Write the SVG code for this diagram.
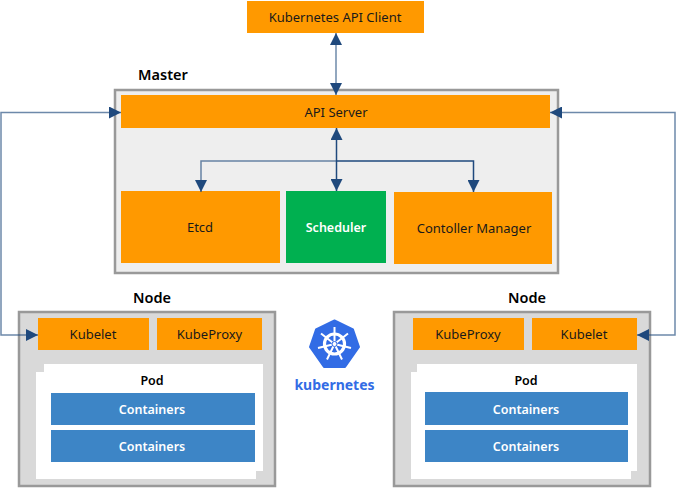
<svg xmlns="http://www.w3.org/2000/svg" width="676" height="488" viewBox="0 0 676 488">
<style>
text{font-family:"Noto Sans","Open Sans","DejaVu Sans",sans-serif;font-size:13px;text-anchor:middle;fill:#1a1a1a}
.o{fill:#ff9900}.c{fill:#3d85c6}.f{fill:#d9d9d9;stroke:#999;stroke-width:2.5}
.h{font-size:14.500px;font-weight:600;fill:#000}.w{fill:#fff;font-weight:600;font-size:12.500px}.b{fill:#000;font-weight:600;font-size:12.500px}
.l{fill:none;stroke:#1f497d;stroke-width:1.5;stroke-opacity:.65}
.d{stroke-opacity:1}
</style>
<defs>
<marker id="a" markerUnits="userSpaceOnUse" viewBox="0 0 12 12" refX="12" refY="6" markerWidth="12" markerHeight="12" orient="auto-start-reverse"><path d="M0 0L12 6L0 12z" fill="#1f497d"/></marker>
</defs>
<rect width="676" height="488" fill="#fff"/>
<g id="master"><rect x="115" y="90" width="443" height="183" fill="#eeeeee" stroke="#999" stroke-width="2.5"/><text class="h" x="163" y="80">Master</text></g>
<g id="client"><rect class="o" x="247" y="1" width="177" height="32"/><text x="335" y="22">Kubernetes API Client</text></g>
<g id="api-server"><rect class="o" x="121" y="95" width="429" height="33"/><text x="336" y="117">API Server</text></g>
<g id="etcd"><rect class="o" x="121" y="191" width="159" height="72"/><text x="200" y="232">Etcd</text></g>
<g id="scheduler"><rect x="286" y="191" width="100" height="72" fill="#00b050"/><text class="w" x="336" y="232">Scheduler</text></g>
<g id="controller"><rect class="o" x="394" y="192" width="158" height="72"/><text x="474" y="233">Contoller Manager</text></g>
<g id="node-left"><rect class="f" x="19" y="312" width="256" height="174"/><text class="h" x="152" y="303">Node</text>
<rect class="o" x="38" y="318" width="111" height="32"/><text x="93" y="339">Kubelet</text>
<rect class="o" x="157" y="318" width="105" height="32"/><text x="209.500" y="339">KubeProxy</text>
<path d="M44 364H263V471H256V479H36V372H44z" fill="#fff"/><text class="b" x="152" y="385">Pod</text>
<rect class="c" x="51" y="393" width="204" height="32"/><text class="w" x="152" y="414">Containers</text>
<rect class="c" x="51" y="430" width="204" height="32"/><text class="w" x="152" y="451">Containers</text></g>
<g id="node-right"><rect class="f" x="394" y="312" width="256" height="174"/><text class="h" x="527" y="303">Node</text>
<rect class="o" x="413" y="318" width="111" height="32"/><text x="468" y="339">KubeProxy</text>
<rect class="o" x="532" y="318" width="105" height="32"/><text x="584" y="339">Kubelet</text>
<path d="M417 364H637V471H631V479H411V372H417z" fill="#fff"/><text class="b" x="526" y="385">Pod</text>
<rect class="c" x="425" y="392" width="203" height="33"/><text class="w" x="526" y="414">Containers</text>
<rect class="c" x="425" y="430" width="203" height="32"/><text class="w" x="526" y="451">Containers</text></g>
<g id="logo">
<path d="M334.500 320.500L353 329.500L359 347L345 367H324L310 347L316 329.500z" fill="#326ce5" stroke="#326ce5" stroke-width="2" stroke-linejoin="round"/>
<g fill="none" stroke="#fff">
<circle cx="334.500" cy="344" r="10" stroke-width="3.200"/>
<path stroke-width="2" d="M334.500 344V327M334.500 344L348 333.500M334.500 344L351 348M334.500 344L342 359.500M334.500 344L327 359.500M334.500 344L318 348M334.500 344L321 333.500"/>
</g>
<circle cx="334.500" cy="344" r="2.500" fill="#fff" stroke="#326ce5"/>
<text x="334.500" y="390" style="font-size:14px;font-weight:700;fill:#326ce5">kubernetes</text></g>
<g id="connectors">
<path class="l" d="M336 33V95" marker-start="url(#a)" marker-end="url(#a)"/>
<path class="l d" d="M336.500 128V191" marker-start="url(#a)" marker-end="url(#a)"/>
<path class="l" d="M336.500 161H201V192" marker-end="url(#a)"/>
<path class="l d" d="M336.500 161H473.500V192" marker-end="url(#a)"/>
<path class="l" d="M121 112.500H1V335H38" marker-start="url(#a)" marker-end="url(#a)"/>
<path class="l" d="M550 112.500H675V335H637" marker-start="url(#a)" marker-end="url(#a)"/>
</g>
</svg>
